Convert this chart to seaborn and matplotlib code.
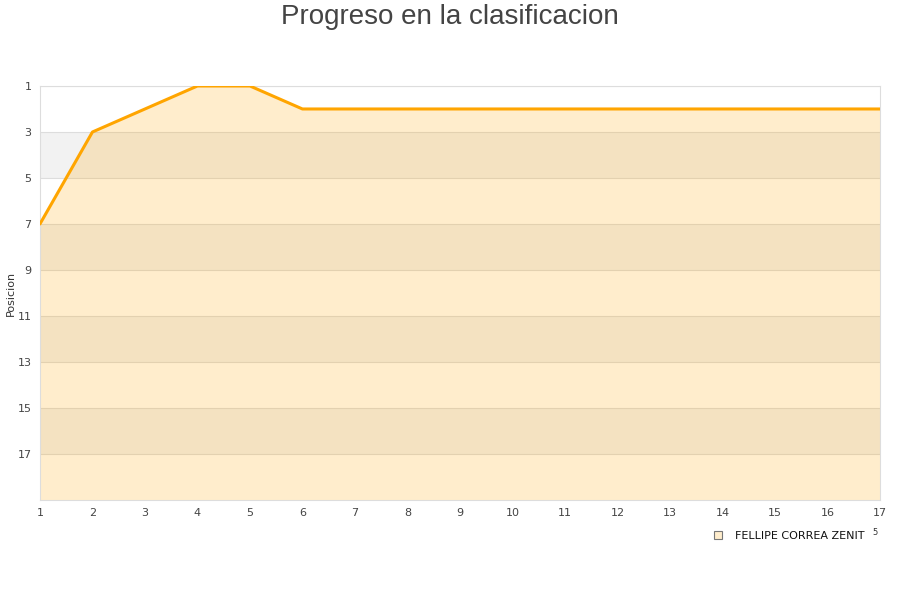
import matplotlib
matplotlib.use("Agg")
import matplotlib.pyplot as plt
import seaborn as sns
import pandas as pd
from matplotlib.lines import Line2D

jornadas = list(range(1, 18))
posiciones = [7, 3, 2, 1, 1, 2, 2, 2, 2, 2, 2, 2, 2, 2, 2, 2, 2]
jugador = "FELLIPE CORREA ZENIT"
titulo = "Progreso en la clasificacion"
y_ticks = [1, 3, 5, 7, 9, 11, 13, 15, 17]

df = pd.DataFrame({"jornada": jornadas, "posicion": posiciones})

sns.set_theme(style="white")
plt.rcParams['font.family'] = ['DejaVu Sans']

fig = plt.figure(figsize=(9, 6), dpi=100)
ax = fig.add_axes([0.0444, 0.1667, 0.9333, 0.69])

# alternating background bands
for lo in range(3, 19, 4):
    ax.axhspan(lo, lo + 2, color="#f2f2f2", zorder=0, lw=0)

ax.fill_between(df["jornada"], df["posicion"], 19, color="#FFA500", alpha=0.2, lw=0, zorder=1)
sns.lineplot(data=df, x="jornada", y="posicion", ax=ax, color="#FFA500", lw=2.2, zorder=3)

ax.set_xlim(1, 17)
ax.set_ylim(19, 1)
ax.set_xticks(jornadas)
ax.set_yticks(y_ticks)
ax.tick_params(axis="both", labelsize=8, colors="#444444", length=0, pad=6)
for y in y_ticks:
    ax.axhline(y, color="#dddddd", lw=0.8, zorder=0.5)
for s in ax.spines.values():
    s.set_color("#dddddd")
    s.set_linewidth(0.8)

ax.set_xlabel("")
ax.set_ylabel("Posicion", fontsize=8, color="#333333")
ax.yaxis.set_label_coords(-0.029, 0.5)

fig.text(0.5, 0.972, titulo, ha="center", va="center", fontsize=20,
         color="#444444", family="Liberation Sans")

handle = Line2D([], [], marker="s", linestyle="none", markersize=6,
                markerfacecolor="#FFEDCC", markeredgecolor="#777777", markeredgewidth=0.8)
fig.legend([handle], [jugador], loc="center", bbox_to_anchor=(0.873, 0.107),
           frameon=False, fontsize=8, handletextpad=0.6, borderpad=0, labelcolor="#111111")
fig.text(0.972, 0.113, "5", fontsize=6, color="#333333", ha="center", va="center")

fig.savefig("out.png", dpi=100)
